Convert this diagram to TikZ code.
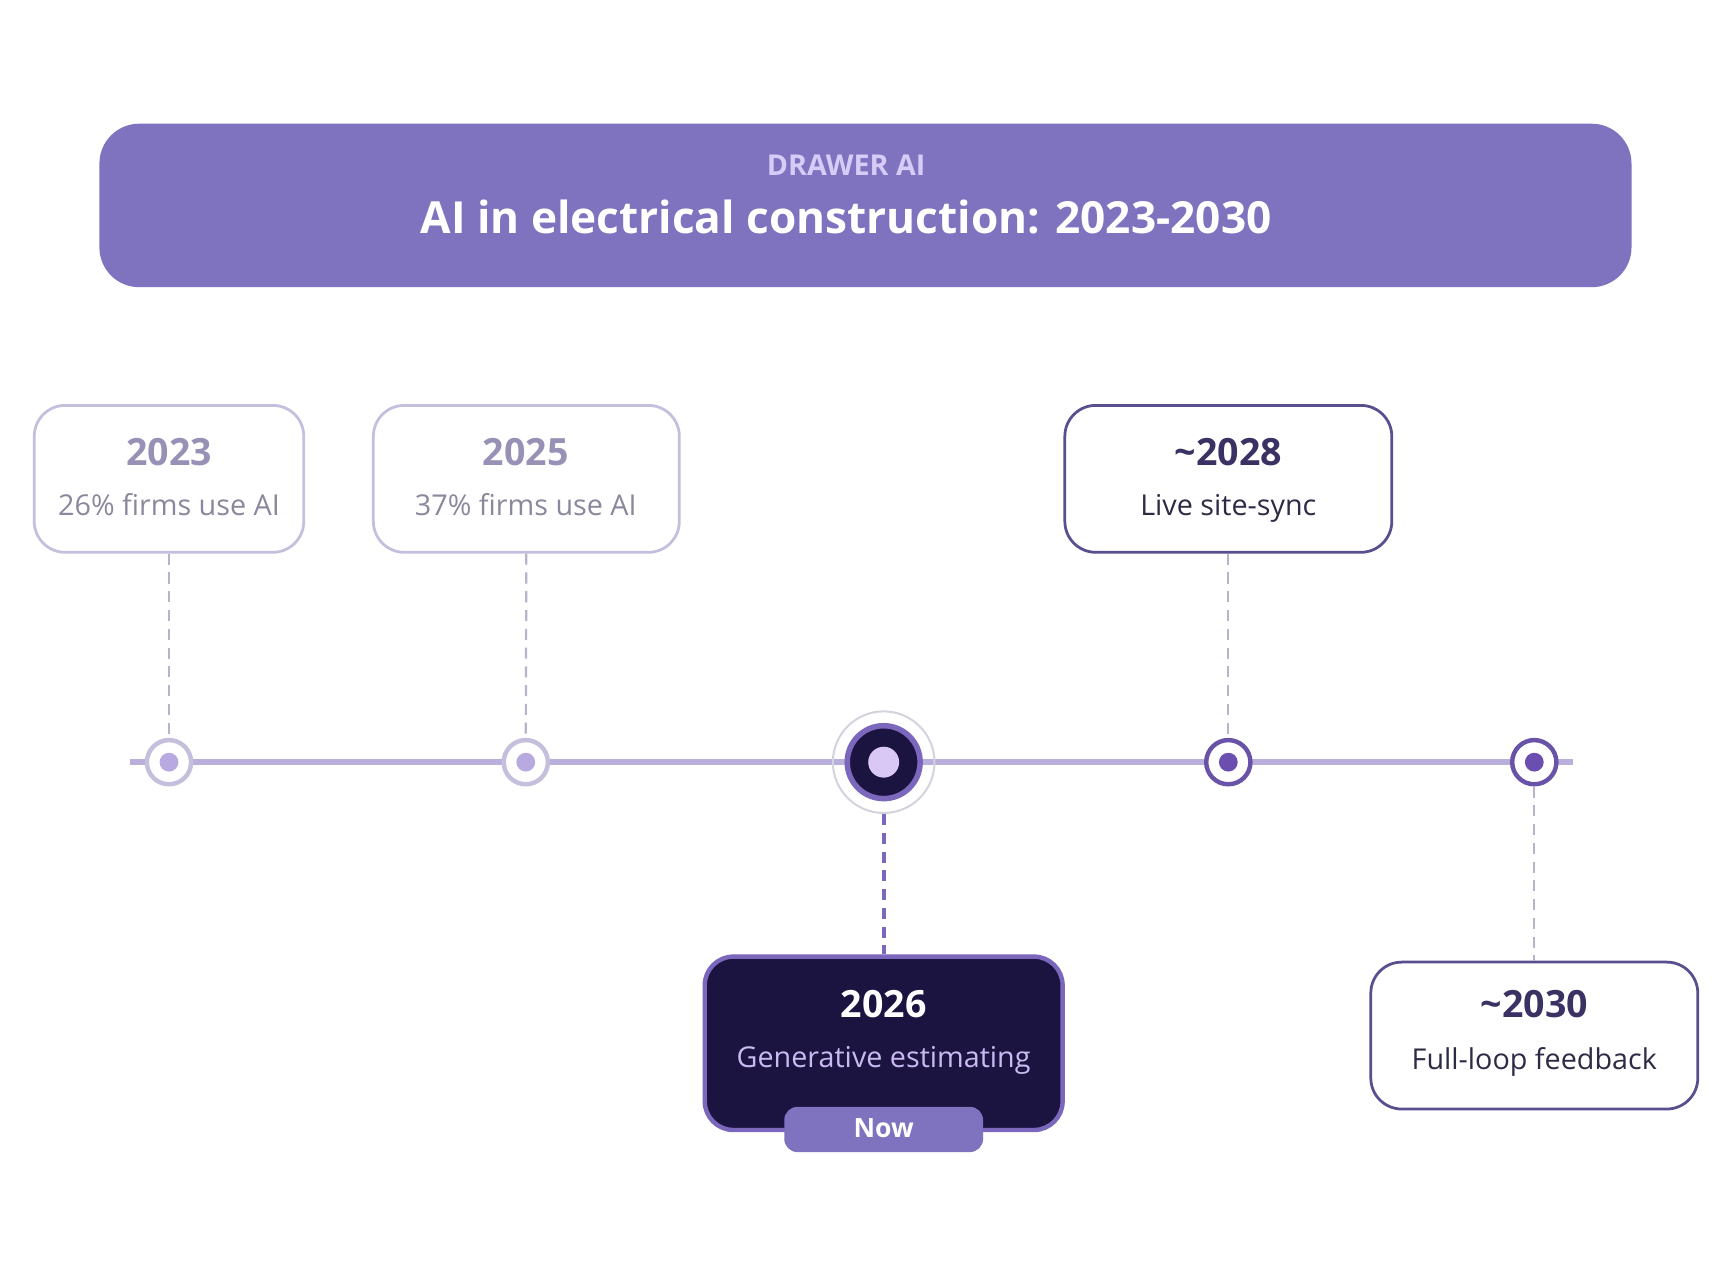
\documentclass[tikz,border=0pt]{standalone}
\usepackage{fontspec}
\setmainfont{Open Sans}
\definecolor{hdr}{HTML}{7F72BE}
\definecolor{hdrsub}{HTML}{D6CCF7}
\definecolor{tline}{HTML}{B9AEDC}
\definecolor{pastStroke}{HTML}{C5BEDD}
\definecolor{pastYear}{HTML}{9891B5}
\definecolor{pastText}{HTML}{8B879C}
\definecolor{pastDot}{HTML}{B8AAE0}
\definecolor{futStroke}{HTML}{5A4E8F}
\definecolor{futYear}{HTML}{3B3163}
\definecolor{futText}{HTML}{2E2B45}
\definecolor{futDot}{HTML}{6A4FB0}
\definecolor{futRing}{HTML}{6853A8}
\definecolor{nowFill}{HTML}{1B1440}
\definecolor{nowStroke}{HTML}{7B68BD}
\definecolor{nowText}{HTML}{C9BBF2}
\definecolor{nowDot}{HTML}{D9C8F5}
\definecolor{halo}{HTML}{D4D2DC}
\definecolor{dashc}{HTML}{B8B3CB}
\begin{document}
\begin{tikzpicture}[x=1pt,y=-1pt,
  card/.style={draw, line width=2.5pt, fill=white, rounded corners=28pt, inner sep=0pt},
  pastcard/.style={card, draw=pastStroke},
  futcard/.style={card, draw=futStroke},
  yr/.style={anchor=base, inner sep=0pt, font=\fontsize{34}{40}\selectfont\bfseries},
  sub/.style={anchor=base, inner sep=0pt, font=\fontsize{26}{31}\selectfont},
  ring/.style={circle, draw, line width=4pt, fill=white, minimum size=40pt, inner sep=0pt},
  dot/.style={circle, minimum size=17pt, inner sep=0pt},
  conn/.style={dashc, line width=2pt, dash pattern=on 10pt off 7pt}
]
\useasboundingbox (0,0) rectangle (1568,1153);
\fill[white] (0,0) rectangle (1568,1153);

% header
\node[fill=hdr, rounded corners=36pt, minimum width=1387pt, minimum height=148pt, inner sep=0pt] (hdr) at (783.5,186) {};
\node[anchor=base, inner sep=0pt, text=hdrsub, font=\fontsize{26}{30}\selectfont\bfseries] (brand) at (766,159) {DRAWER AI};
\node[anchor=base, inner sep=0pt, text=white, font=\fontsize{40}{48}\selectfont\bfseries] (title) at (766,211) {AI in electrical construction: 2023-2030};

% timeline
\coordinate (tlL) at (118,690);
\coordinate (tlR) at (1424,690);
\draw[tline, line width=5pt] (tlL) -- (tlR);

% markers
\node[ring, draw=pastStroke] (c2023) at (153,690) {};
\node[dot, fill=pastDot] (d2023) at (153,690) {};
\node[ring, draw=pastStroke] (c2025) at (476,690) {};
\node[dot, fill=pastDot] (d2025) at (476,690) {};
\node[circle, draw=halo, line width=1.8pt, minimum size=92pt, inner sep=0pt] (h2026) at (800,690) {};
\node[circle, draw=nowStroke, fill=nowFill, line width=5pt, minimum size=66pt, inner sep=0pt] (c2026) at (800,690) {};
\node[circle, fill=nowDot, minimum size=28pt, inner sep=0pt] (d2026) at (800,690) {};
\node[ring, draw=futRing] (c2028) at (1112,690) {};
\node[dot, fill=futDot] (d2028) at (1112,690) {};
\node[ring, draw=futRing] (c2030) at (1389,690) {};
\node[dot, fill=futDot] (d2030) at (1389,690) {};

% cards
\node[pastcard, minimum width=244pt, minimum height=133pt] (b2023) at (153,433.5) {};
\node[yr, text=pastYear] (y2023) at (153,421) {2023};
\node[sub, text=pastText] (s2023) at (153,467) {26\% firms use AI};

\node[pastcard, minimum width=277pt, minimum height=133pt] (b2025) at (476.5,433.5) {};
\node[yr, text=pastYear] (y2025) at (476,421) {2025};
\node[sub, text=pastText] (s2025) at (476,467) {37\% firms use AI};

\node[futcard, minimum width=296pt, minimum height=133pt] (b2028) at (1112,433.5) {};
\node[yr, text=futYear] (y2028) at (1112,421) {\textasciitilde2028};
\node[sub, text=futText] (s2028) at (1112,467) {Live site-sync};

\node[futcard, minimum width=296pt, minimum height=133pt] (b2030) at (1389,937.5) {};
\node[yr, text=futYear] (y2030) at (1389,921) {\textasciitilde2030};
\node[sub, text=futText] (s2030) at (1389,968) {Full-loop feedback};

\node[draw=nowStroke, fill=nowFill, line width=4pt, rounded corners=26pt, minimum width=324pt, minimum height=157pt, inner sep=0pt] (b2026) at (800,944.5) {};
\node[yr, text=white] (y2026) at (800,921) {2026};
\node[sub, text=nowText] (s2026) at (800,966) {Generative estimating};
\node[fill=hdr, rounded corners=12pt, minimum width=180pt, minimum height=41pt, inner sep=0pt] (pill) at (800,1022.5) {};
\node[anchor=base, inner sep=0pt, text=white, font=\fontsize{24}{28}\selectfont\bfseries] (nowlbl) at (800,1030) {Now};

% connectors
\draw[conn] (b2023.south) -- (c2023.north);
\draw[conn] (b2025.south) -- (c2025.north);
\draw[conn] (b2028.south) -- (c2028.north);
\draw[conn] (c2030.south) -- (b2030.north);
\draw[nowStroke, line width=3.5pt, dash pattern=on 10pt off 7pt] (h2026.south) -- (b2026.north);
\end{tikzpicture}
\end{document}
